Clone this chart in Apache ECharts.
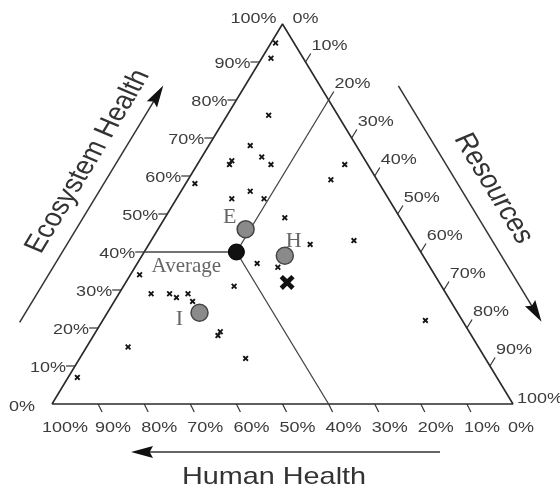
<!DOCTYPE html>
<html>
<head>
<meta charset="utf-8">
<script src="https://cdn.jsdelivr.net/npm/echarts@6/dist/echarts.min.js"></script>
<style>html,body{margin:0;padding:0;background:#fff}#c{width:560px;height:491px}</style>
</head>
<body>
<div id="c"></div>
<script>
// ---- data (percentages) ----
const tickValues = [0, 10, 20, 30, 40, 50, 60, 70, 80, 90, 100];
const tickLabels = ['0%', '10%', '20%', '30%', '40%', '50%', '60%', '70%', '80%', '90%', '100%'];
const axisTitles = ['Ecosystem Health', 'Resources', 'Human Health'];

// small "x" observations: ecosystem / resources / human
const pointEcosystem = [95, 91, 76, 68, 63, 64, 65, 63, 58, 56, 54, 54, 49, 63, 59, 42, 43, 37, 36, 34, 29, 29, 28, 29, 27, 31, 19, 18, 15, 12, 7, 22];
const pointResources = [1, 2, 9, 9, 7, 7, 13, 16, 2, 15, 19, 12, 26, 32, 31, 35, 44, 26, 31, 2, 7, 11, 13, 15, 17, 24, 27, 27, 9, 36, 2, 70];
const pointHuman = [4, 7, 15, 23, 30, 29, 22, 21, 40, 29, 27, 34, 25, 5, 10, 23, 13, 37, 33, 64, 64, 60, 59, 56, 56, 45, 54, 55, 76, 52, 91, 8];

// labelled group points
const groupNames = ['E', 'H', 'I'];
const groupEcosystem = [46, 39, 24];
const groupResources = [19, 31, 20];
const groupHuman = [35, 30, 56];

// average point and the big X : [ecosystem, resources, human]
const averageValues = [40, 20, 40];
const crossValues = [32, 35, 33];

// ---- styles ----
const K = 1.2; // horizontal stretch of the original picture's text
const SANS = '"Liberation Sans", Arial, sans-serif';
const SERIF = '"Liberation Serif", "Times New Roman", serif';
const groupLabelOffsets = { E: [-16, -12], H: [9, -15], I: [-20, 6] };
const XPATH = 'path://M0 2.2L2.2 0L5 2.8L7.8 0L10 2.2L7.2 5L10 7.8L7.8 10L5 7.2L2.2 10L0 7.8L2.8 5Z';
const BIGX = 'path://M0 2.2L2.2 0L5 2.8L7.8 0L10 2.2L7.2 5L10 7.8L7.8 10L5 7.2L2.2 10L0 7.8L2.8 5Z';

// ternary -> cartesian data space (BL = human vertex, BR = resources vertex, apex = ecosystem vertex)
function toXY(e, r, h) {
  const s = e + r + h;
  return [(r + e / 2) / s, e / s];
}

function tickItem(params, api) {
  const a = api.value(0), i = api.value(1), v = tickValues[i];
  let p, d, lx, ly, align;
  if (a === 0) {
    p = api.coord(toXY(v, 0, 100 - v));
    d = [-9, 0]; align = 'right';
    lx = p[0] - 9; ly = p[1] + 2;
    if (v === 100) { lx = p[0] - 6; ly = p[1] - 5; }
    if (v === 0) { lx = p[0] - 17; ly = p[1] + 3; }
  } else if (a === 1) {
    p = api.coord(toXY(100 - v, v, 0));
    d = [5.2, -8.5]; align = 'left';
    lx = p[0] + 6; ly = p[1] - 16;
    if (v === 0) { lx = p[0] + 10; ly = p[1] - 5; }
    if (v === 100) { lx = p[0] + 4; ly = p[1] - 5; }
  } else {
    p = api.coord(toXY(0, 100 - v, v));
    d = [4, 8]; align = 'left';
    lx = p[0] - 3; ly = p[1] + 24;
    if (v === 100) { lx = p[0] - 10; }
    if (v === 0) { lx = p[0] - 5; }
  }
  const children = [];
  if (v > 0 && v < 100) {
    children.push({ type: 'line', shape: { x1: p[0], y1: p[1], x2: p[0] + d[0], y2: p[1] + d[1] },
      style: { stroke: '#333', lineWidth: 1.2 } });
  }
  children.push({ type: 'text', x: lx, y: ly, scaleX: K,
    style: { text: tickLabels[i], font: '15px ' + SANS, fill: '#3c3c3c', align: align, verticalAlign: 'middle' } });
  return { type: 'group', children: children };
}

function arrowHead(tip, u, L, w) {
  const bx = tip[0] - u[0] * L, by = tip[1] - u[1] * L;
  const nx = -u[1], ny = u[0];
  return { type: 'polygon', shape: { points: [tip, [bx + nx * w, by + ny * w], [tip[0] - u[0] * L * 0.85, tip[1] - u[1] * L * 0.85], [bx - nx * w, by - ny * w]] },
    style: { fill: '#111' } };
}

function decoItem(params, api) {
  const a = api.value(0);
  const BL = api.coord(toXY(0, 0, 100));
  const BR = api.coord(toXY(0, 100, 0));
  const AP = api.coord(toXY(100, 0, 0));
  let origin, u, start, end, center, t0, t1, dArrow, tC, dT;
  const children = [];
  if (a === 2) {
    u = [-1, 0];
    start = [BL[0] + 388, BL[1] + 48];
    end = [BL[0] + 79, BL[1] + 48];
    center = [BL[0] + 222, BL[1] + 73];
    children.push({ type: 'line', shape: { x1: start[0], y1: start[1], x2: end[0] + 10, y2: end[1] }, style: { stroke: '#333', lineWidth: 1.5 } });
    children.push(arrowHead(end, u, 22, 6));
    children.push({ type: 'group', x: center[0], y: center[1], scaleX: K, children: [
      { type: 'text', style: { text: axisTitles[2], font: '24px ' + SANS, fill: '#333', align: 'center', verticalAlign: 'middle' } }
    ] });
    return { type: 'group', children: children };
  }
  if (a === 0) { origin = BL; const dx = AP[0] - BL[0], dy = AP[1] - BL[1], l = Math.hypot(dx, dy); u = [dx / l, dy / l];
    t0 = 53; t1 = 330; dArrow = 70; tC = 226; dT = 95; }
  else { origin = AP; const dx = BR[0] - AP[0], dy = BR[1] - AP[1], l = Math.hypot(dx, dy); u = [dx / l, dy / l];
    t0 = 113; t1 = 389; dArrow = 67; tC = 250; dT = 95; }
  const n = [u[1], -u[0]];
  start = [origin[0] + u[0] * t0 + n[0] * dArrow, origin[1] + u[1] * t0 + n[1] * dArrow];
  end = [origin[0] + u[0] * t1 + n[0] * dArrow, origin[1] + u[1] * t1 + n[1] * dArrow];
  center = [origin[0] + u[0] * tC + n[0] * dT, origin[1] + u[1] * tC + n[1] * dT];
  // angle in the un-stretched space
  const ang = Math.atan2(-u[1] * K, u[0]);
  children.push({ type: 'line', shape: { x1: start[0], y1: start[1], x2: end[0] - u[0] * 10, y2: end[1] - u[1] * 10 }, style: { stroke: '#333', lineWidth: 1.5 } });
  children.push(arrowHead(end, u, 22, 6));
  children.push({ type: 'group', x: center[0], y: center[1], scaleX: K, children: [
    { type: 'text', rotation: ang, style: { text: axisTitles[a], font: '25px ' + SANS, fill: '#333', align: 'center', verticalAlign: 'middle' } }
  ] });
  return { type: 'group', children: children };
}

const tickData = [];
for (let a = 0; a < 3; a++) for (let i = 0; i < tickValues.length; i++) tickData.push([a, i]);

const avgXY = toXY(averageValues[0], averageValues[1], averageValues[2]);
const lineBase = { type: 'line', symbol: 'none', silent: true, clip: false, z: 2 };

const chart = echarts.init(document.getElementById('c'), null, { renderer: 'canvas' });
chart.setOption({
  animation: false,
  backgroundColor: '#fff',
  grid: { left: 52, top: 24, width: 461, height: 380 },
  xAxis: { type: 'value', min: 0, max: 1, show: false },
  yAxis: { type: 'value', min: 0, max: 1, show: false },
  series: [
    Object.assign({}, lineBase, { name: 'triangle', lineStyle: { color: '#2a2a2a', width: 1.6 },
      data: [toXY(0, 0, 100), toXY(0, 100, 0), toXY(100, 0, 0), toXY(0, 0, 100)] }),
    Object.assign({}, lineBase, { name: 'avgE', lineStyle: { color: '#444', width: 1.3 },
      data: [avgXY, toXY(averageValues[0], 0, 100 - averageValues[0])] }),
    Object.assign({}, lineBase, { name: 'avgR', lineStyle: { color: '#444', width: 1.3 },
      data: [avgXY, toXY(100 - averageValues[1], averageValues[1], 0)] }),
    Object.assign({}, lineBase, { name: 'avgH', lineStyle: { color: '#444', width: 1.3 },
      data: [avgXY, toXY(0, 100 - averageValues[2], averageValues[2])] }),
    { type: 'custom', name: 'ticks', renderItem: tickItem, data: tickData, silent: true, clip: false, z: 3 },
    { type: 'custom', name: 'deco', renderItem: decoItem, data: [[0], [1], [2]], silent: true, clip: false, z: 3 },
    { type: 'scatter', name: 'points', symbol: XPATH, symbolSize: 6, itemStyle: { color: '#141414', opacity: 1 }, z: 4,
      data: pointEcosystem.map((e, i) => toXY(e, pointResources[i], pointHuman[i])) },
    { type: 'scatter', name: 'cross', symbol: BIGX, symbolSize: 15, itemStyle: { color: '#111', opacity: 1 }, z: 4,
      data: [toXY(crossValues[0], crossValues[1], crossValues[2])] },
    { type: 'scatter', name: 'groups', symbol: 'circle', symbolSize: 17, z: 5,
      itemStyle: { color: '#8a8a8a', borderColor: '#444', borderWidth: 1.5, opacity: 1 },
      label: { show: true, position: 'inside', formatter: '{b}', fontFamily: SERIF, fontSize: 22, color: '#666' },
      data: groupNames.map((nm, i) => ({ name: nm, value: toXY(groupEcosystem[i], groupResources[i], groupHuman[i]),
        label: { offset: groupLabelOffsets[nm] } })) },
    { type: 'scatter', name: 'average', symbol: 'circle', symbolSize: 16, z: 5,
      itemStyle: { color: '#111', borderColor: '#000', borderWidth: 1, opacity: 1 },
      label: { show: true, position: 'inside', formatter: 'Average', fontFamily: SERIF, fontSize: 21, color: '#666', offset: [-50, 14] },
      data: [avgXY] }
  ]
});
</script>
</body>
</html>
